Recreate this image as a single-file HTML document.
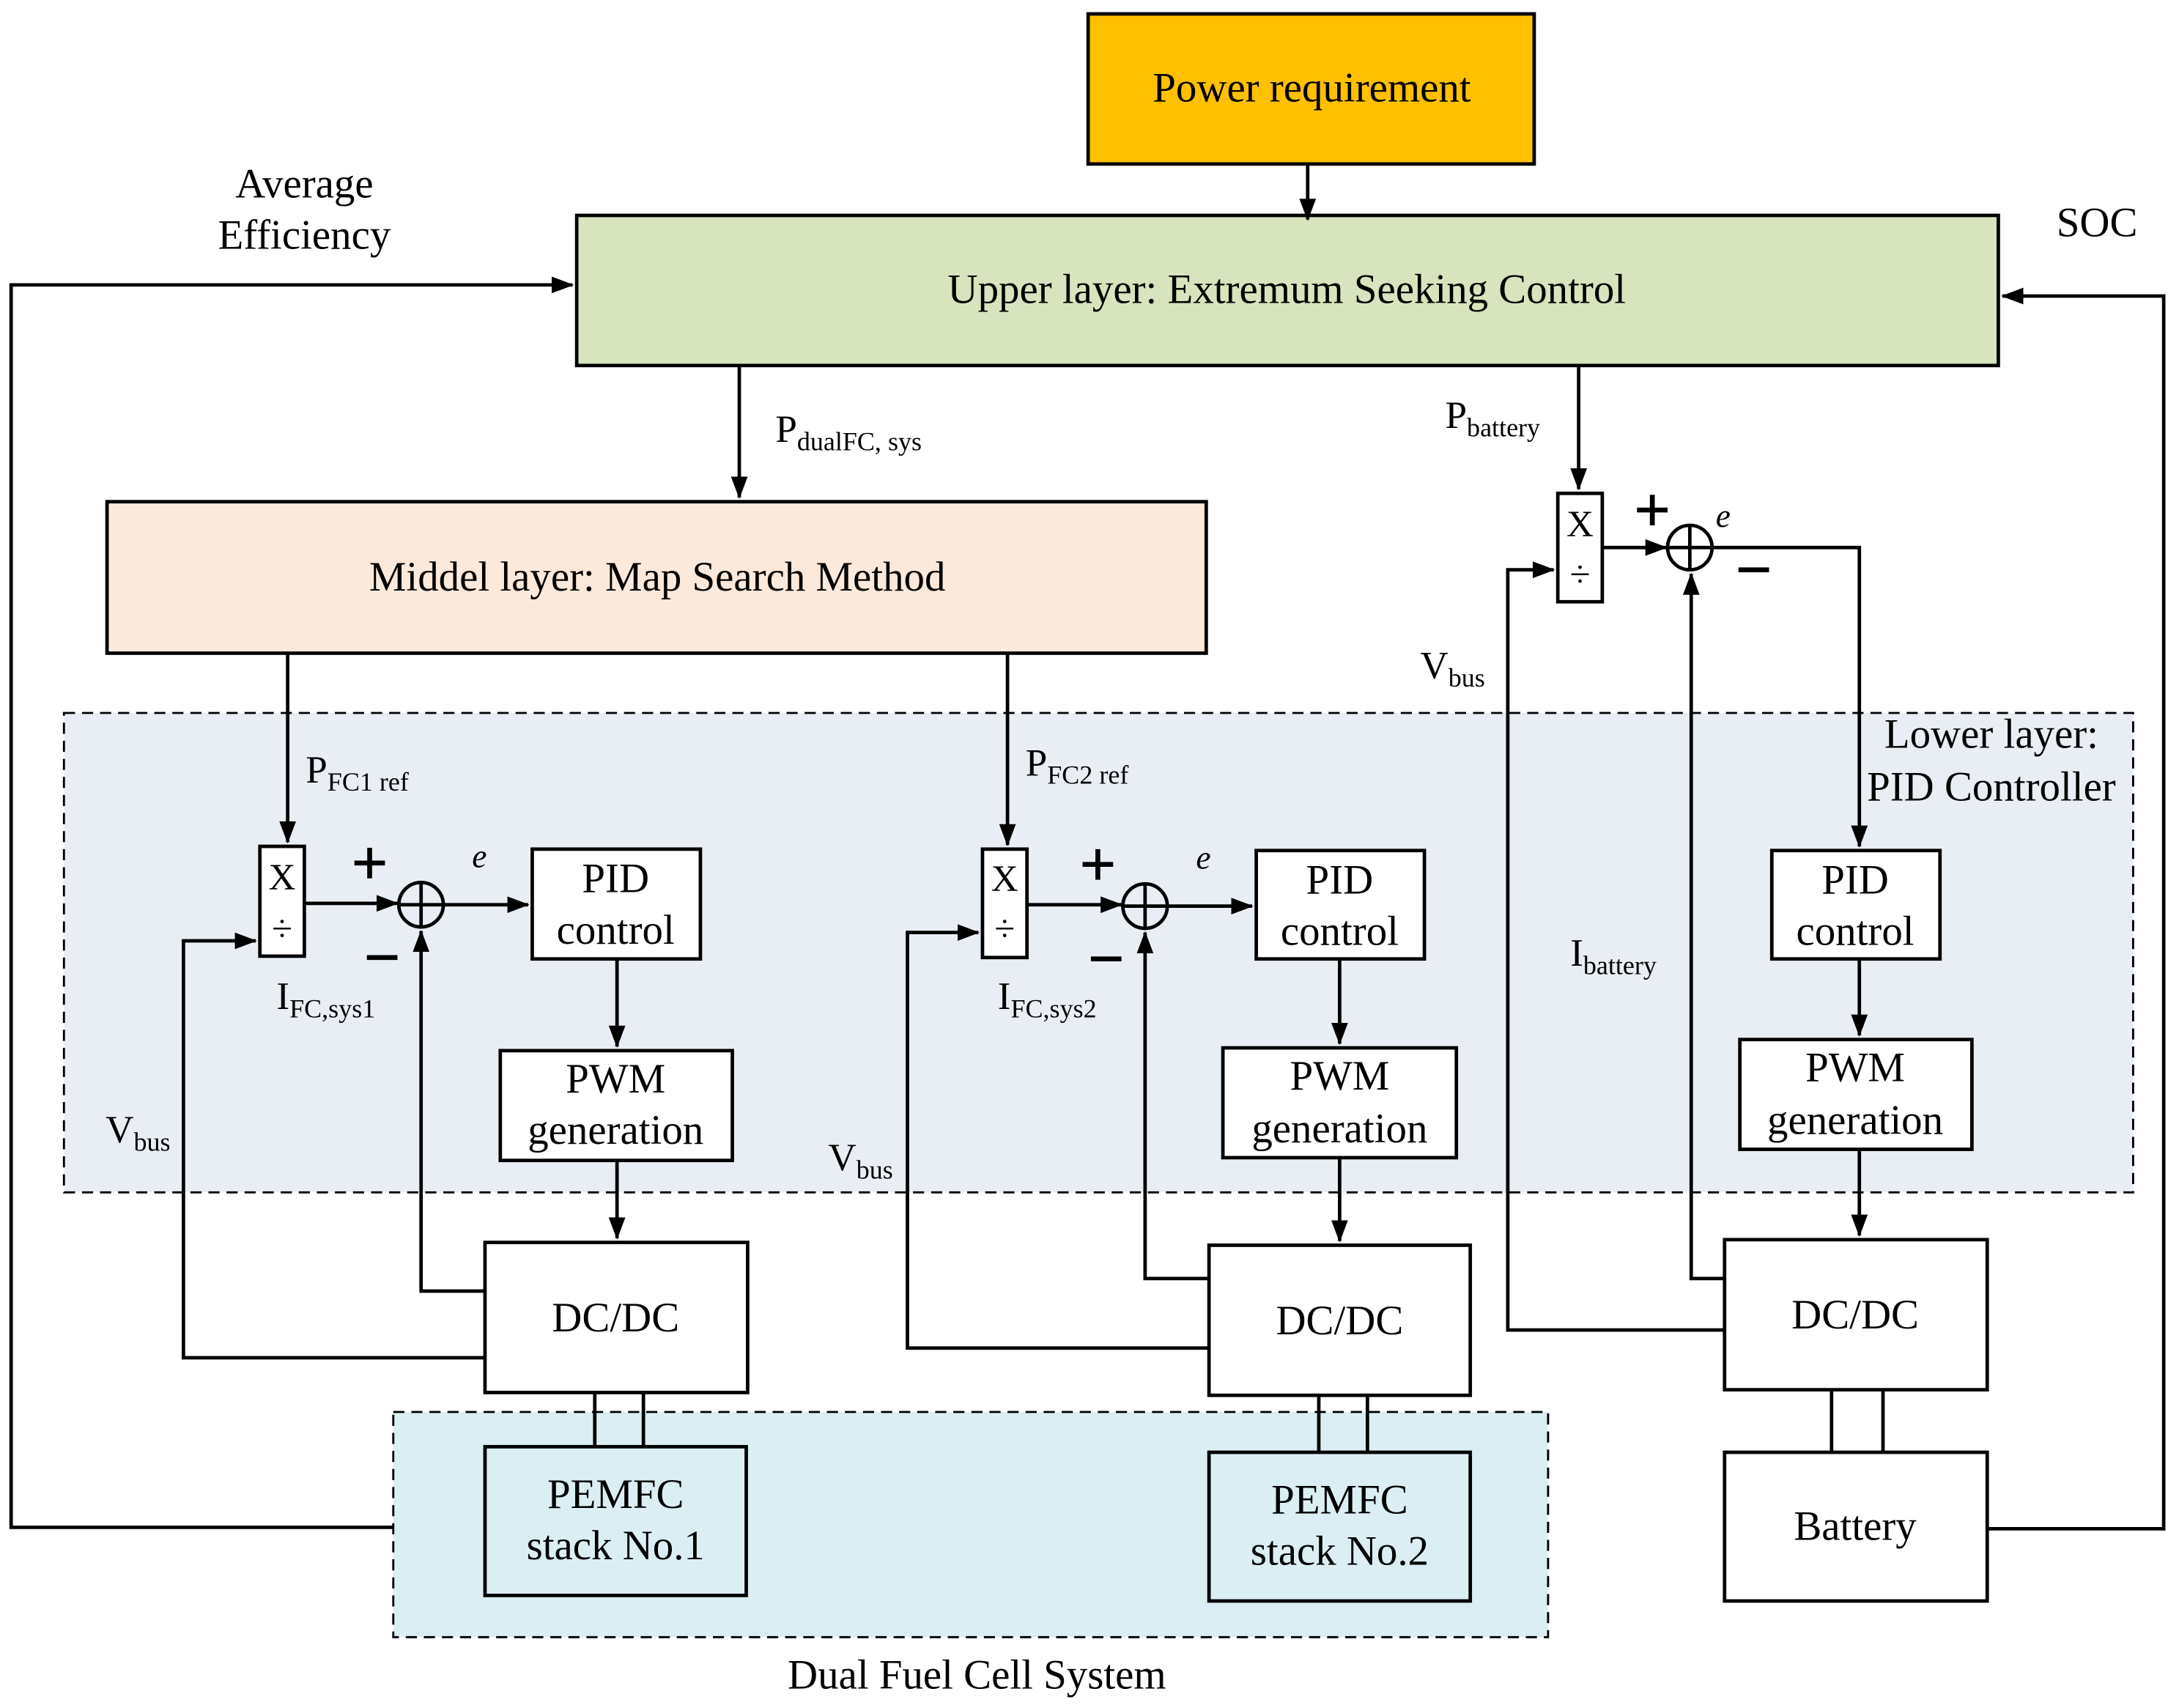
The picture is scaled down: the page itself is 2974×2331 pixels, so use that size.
<!DOCTYPE html>
<html><head><meta charset="utf-8"><style>html,body{margin:0;padding:0;background:#fff}svg{display:block}</style></head><body>
<svg width="2974" height="2331" viewBox="0 0 1568 1229" xmlns="http://www.w3.org/2000/svg" font-family="Liberation Serif, serif" fill="#000">
<defs>
<marker id="b" markerWidth="16" markerHeight="12" refX="15" refY="6" orient="auto" markerUnits="userSpaceOnUse"><path d="M0,0 L16,6 L0,12 z" fill="#000"/></marker></defs>
<g stroke="#000" stroke-width="2.5" fill="none">
<rect x="46" y="513" width="1489" height="345" fill="#E9EEF4" stroke-dasharray="8,5" stroke-width="1.5"/>
<rect x="283" y="1016" width="831" height="162" fill="#DBEEF3" stroke-dasharray="8,5" stroke-width="1.5"/>
<rect x="783" y="10" width="321" height="108" fill="#FFC000"/>
<rect x="415" y="155" width="1023" height="108" fill="#D7E4BD"/>
<rect x="77" y="361" width="791" height="109" fill="#FBE9DB"/>
<rect x="187" y="609" width="32" height="79" fill="#fff"/>
<circle cx="303" cy="651" r="16"/><path d="M287,651H319M303,635V667"/>
<rect x="383" y="611" width="121" height="79" fill="#fff"/>
<rect x="360" y="756" width="167" height="79" fill="#fff"/>
<rect x="349" y="894" width="189" height="108" fill="#fff"/>
<rect x="349" y="1041" width="188" height="107" fill="#DBEEF3"/>
<path d="M428,1002V1041M463,1002V1041"/>
<path d="M207,470V606" marker-end="url(#b)"/>
<path d="M219,650H286" marker-end="url(#b)"/>
<path d="M319,651H380" marker-end="url(#b)"/>
<path d="M444,690V753" marker-end="url(#b)"/>
<path d="M444,835V891" marker-end="url(#b)"/>
<path d="M349,977H132V677H184" marker-end="url(#b)"/>
<path d="M349,929H303V670" marker-end="url(#b)"/>
<rect x="707" y="611" width="32" height="78" fill="#fff"/>
<circle cx="824" cy="652" r="16"/><path d="M808,652H840M824,636V668"/>
<rect x="904" y="612" width="121" height="78" fill="#fff"/>
<rect x="880" y="754" width="168" height="79" fill="#fff"/>
<rect x="870" y="896" width="188" height="108" fill="#fff"/>
<rect x="870" y="1045" width="188" height="107" fill="#DBEEF3"/>
<path d="M949,1004V1045M984,1004V1045"/>
<path d="M725,470V608" marker-end="url(#b)"/>
<path d="M739,651H807" marker-end="url(#b)"/>
<path d="M840,652H901" marker-end="url(#b)"/>
<path d="M964,690V751" marker-end="url(#b)"/>
<path d="M964,833V893" marker-end="url(#b)"/>
<path d="M870,970H653V671H704" marker-end="url(#b)"/>
<path d="M870,920H824V671" marker-end="url(#b)"/>
<rect x="1121" y="355" width="32" height="78" fill="#fff"/>
<circle cx="1216" cy="394" r="16"/><path d="M1200,394H1232M1216,378V410"/>
<rect x="1275" y="612" width="121" height="78" fill="#fff"/>
<rect x="1252" y="748" width="167" height="79" fill="#fff"/>
<rect x="1241" y="892" width="189" height="108" fill="#fff"/>
<rect x="1241" y="1045" width="189" height="107" fill="#fff"/>
<path d="M1318,1000V1045M1355,1000V1045"/>
<path d="M1136,263V352" marker-end="url(#b)"/>
<path d="M1153,394H1199" marker-end="url(#b)"/>
<path d="M1232,394H1338V609" marker-end="url(#b)"/>
<path d="M1338,690V745" marker-end="url(#b)"/>
<path d="M1338,827V889" marker-end="url(#b)"/>
<path d="M1241,957H1085V410H1118" marker-end="url(#b)"/>
<path d="M1241,920H1217V413" marker-end="url(#b)"/>
<path d="M941,118V158" marker-end="url(#b)"/>
<path d="M532,263V358" marker-end="url(#b)"/>
<path d="M283,1099H8V205H412" marker-end="url(#b)"/>
<path d="M1430,1100H1557V213H1441" marker-end="url(#b)"/>
<!-- plus/minus signs -->
<g stroke-width="3.5">
<path d="M255,621H277M266,610V632M264,689H286"/>
<path d="M779,622H801M790,611V633M785,690H807"/>
<path d="M1178,367H1200M1189,356V378M1251,410H1273"/>
</g>
</g>
<g font-size="30" text-anchor="middle">
<text x="944" y="73">Power requirement</text>
<text x="926" y="218">Upper layer: Extremum Seeking Control</text>
<text x="473" y="425">Middel layer: Map Search Method</text>
<text x="219" y="142">Average</text><text x="219" y="179">Efficiency</text>
<text x="1509" y="170">SOC</text>
<text x="703" y="1215">Dual Fuel Cell System</text>
<text x="1433" y="538">Lower layer:</text><text x="1433" y="576">PID Controller</text>
<text x="443" y="642">PID</text><text x="443" y="679">control</text>
<text x="443" y="786">PWM</text><text x="443" y="823">generation</text>
<text x="443" y="958">DC/DC</text>
<text x="443" y="1085">PEMFC</text><text x="443" y="1122">stack No.1</text>
<text x="964" y="643">PID</text><text x="964" y="680">control</text>
<text x="964" y="784">PWM</text><text x="964" y="822">generation</text>
<text x="964" y="960">DC/DC</text>
<text x="964" y="1089">PEMFC</text><text x="964" y="1126">stack No.2</text>
<text x="1335" y="643">PID</text><text x="1335" y="680">control</text>
<text x="1335" y="778">PWM</text><text x="1335" y="816">generation</text>
<text x="1335" y="956">DC/DC</text>
<text x="1335" y="1108">Battery</text>
<text x="203" y="640" font-size="27">X</text><text x="203" y="677" font-size="27">÷</text>
<text x="723" y="641" font-size="27">X</text><text x="723" y="677" font-size="27">÷</text>
<text x="1137" y="386" font-size="27">X</text><text x="1137" y="422" font-size="27">÷</text>
<text x="345" y="624" font-style="italic" font-size="24">e</text>
<text x="866" y="625" font-style="italic" font-size="24">e</text>
<text x="1240" y="379" font-style="italic" font-size="24">e</text>
</g>
<g font-size="28">
<text x="558" y="318">P<tspan font-size="19" dy="6">dualFC, sys</tspan></text>
<text x="1040" y="308">P<tspan font-size="19" dy="6">battery</tspan></text>
<text x="1022" y="488">V<tspan font-size="19" dy="6">bus</tspan></text>
<text x="1130" y="695">I<tspan font-size="19" dy="6">battery</tspan></text>
<text x="220" y="563">P<tspan font-size="19" dy="6">FC1 ref</tspan></text>
<text x="199" y="726">I<tspan font-size="19" dy="6">FC,sys1</tspan></text>
<text x="76" y="822">V<tspan font-size="19" dy="6">bus</tspan></text>
<text x="738" y="558">P<tspan font-size="19" dy="6">FC2 ref</tspan></text>
<text x="718" y="726">I<tspan font-size="19" dy="6">FC,sys2</tspan></text>
<text x="596" y="842">V<tspan font-size="19" dy="6">bus</tspan></text>
</g>
</svg>
</body></html>
